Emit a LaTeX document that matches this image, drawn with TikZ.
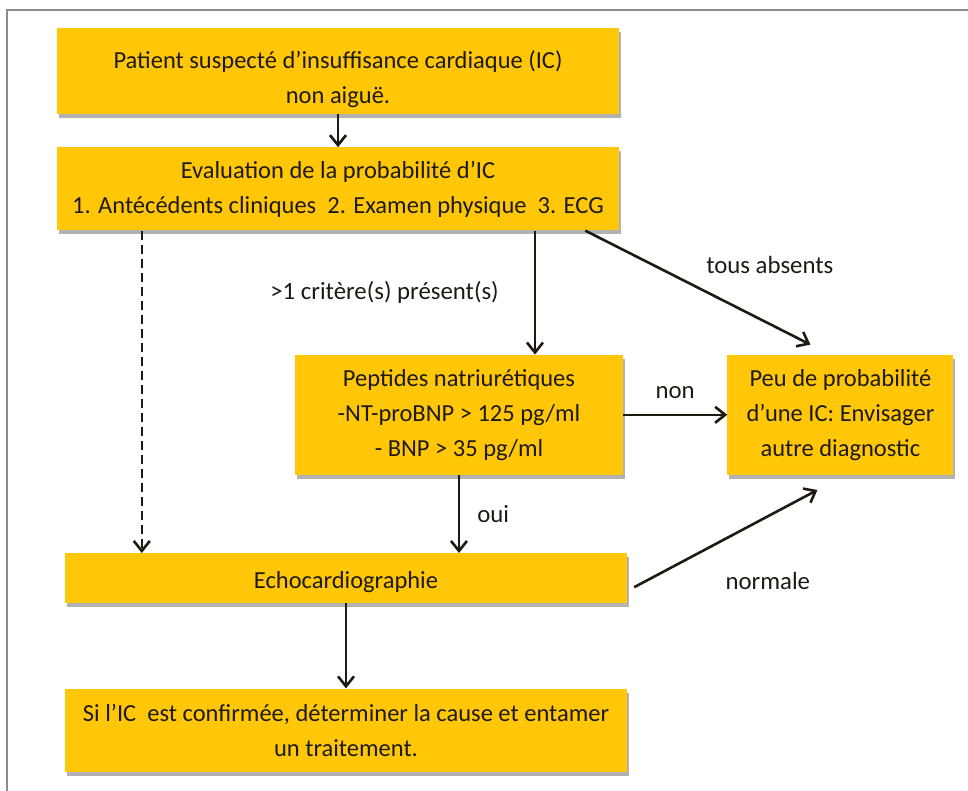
\documentclass[tikz,border=0pt]{standalone}
\usepackage{fontspec}
\setmainfont{Carlito}
\usetikzlibrary{positioning, arrows.meta, shadows}

\definecolor{icyellow}{RGB}{255,199,8}
\definecolor{ictext}{RGB}{30,26,18}
\definecolor{icframe}{RGB}{140,140,140}

\begin{document}
\begin{tikzpicture}[
    x=1pt, y=-1pt,
    box/.style={rectangle, fill=icyellow, text=ictext, align=center, inner sep=4pt, font=\fontsize{24.5}{35}\selectfont,
        drop shadow={shadow xshift=2pt, shadow yshift=-4pt, fill=black, opacity=0.3}},
    widebox/.style={box, minimum width=562pt},
    edgetext/.style={text=ictext, font=\fontsize{24.8}{30}\selectfont, inner sep=0pt},
    arrow/.style={-{Straight Barb[length=10pt, width=16pt, line width=2.6pt]}, line width=2.6pt, draw=ictext}
]
    \useasboundingbox (0,0) rectangle (968,791);
    \draw[icframe, line width=1.5pt] (968,10) -| (7,791);

    % Boxes
    \node[widebox, minimum height=86pt] (patient) at (338,71) {\rule{0pt}{34pt}Patient suspecté d’insuffisance cardiaque (IC)\\non aiguë.};
    \node[widebox, minimum height=83pt, below=33pt of patient] (eval) {Evaluation de la probabilité d’IC\\1. Antécédents cliniques\ \ 2. Examen physique\ \ 3. ECG};
    \node[box, minimum width=328pt, minimum height=120pt, below=124pt of eval, xshift=121pt] (peptides) {Peptides natriurétiques\\-NT-proBNP > 125 pg/ml\\- BNP > 35 pg/ml};
    \node[box, minimum width=226pt, minimum height=120pt, right=104pt of peptides] (peu) {Peu de probabilité\\d’une IC: Envisager\\autre diagnostic};
    \node[widebox, minimum height=50pt, below=78pt of peptides, xshift=-113pt] (echo) {\rule{0pt}{24pt}Echocardiographie};
    \node[widebox, minimum height=83pt, below=85pt of echo] (cause) {Si l’IC\ \ est confirmée, déterminer la cause et entamer\\un traitement.};

    % Arrow ends
    \coordinate (dashend) at ([xshift=77pt]echo.north west);
    \coordinate (critend) at ([xshift=76pt]peptides.north);
    \coordinate (absentend) at ([xshift=-30pt, yshift=10pt]peu.north);
    \coordinate (normstart) at ([xshift=7pt, yshift=-9pt]echo.east);
    \coordinate (normend) at ([xshift=-23pt, yshift=-15pt]peu.south);

    % Arrows
    \draw[arrow] (patient) -- (eval);
    \draw[arrow, dash pattern=on 9pt off 5pt] (eval.south -| dashend) -- (dashend);
    \draw[arrow] (eval.south -| critend) -- node[edgetext, left=35pt] {>1 critère(s) présent(s)} (critend);
    \draw[arrow] ([xshift=-34pt]eval.south east) -- node[edgetext, xshift=72pt, yshift=23pt] {tous absents} (absentend);
    \draw[arrow] (peptides) -- node[edgetext, above=15pt] {non} (peu);
    \draw[arrow] (peptides) -- node[edgetext, right=17pt] {oui} (peptides |- echo.north);
    \draw[arrow] (normstart) -- node[edgetext, xshift=42pt, yshift=-42pt] {normale} (normend);
    \draw[arrow] (echo) -- (cause);
\end{tikzpicture}
\end{document}
